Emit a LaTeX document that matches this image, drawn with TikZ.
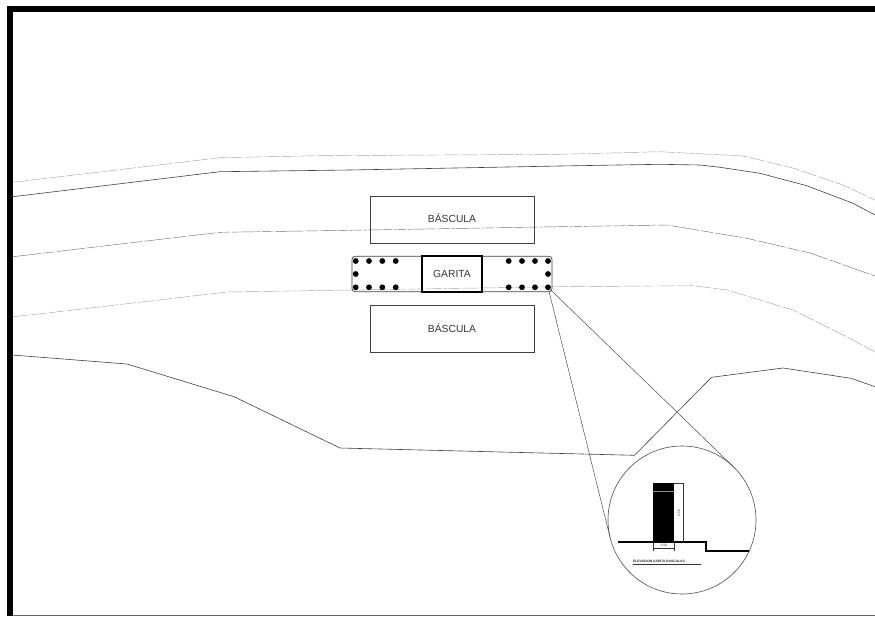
\documentclass[tikz,border=0pt]{standalone}
\usepackage{fontspec}
\setmainfont{Liberation Sans}
\usetikzlibrary{positioning}
\tikzset{
  x=1pt,
  y=-1pt,
  node distance=12pt,
  platform/.style={draw=black!75, line width=0.7pt, minimum width=164pt, minimum height=47pt, inner sep=0pt, font=\fontsize{10.3}{12}\selectfont, text=black!80},
  booth/.style={draw=black, line width=1.3pt, minimum width=60pt, minimum height=36pt, inner sep=0pt, font=\fontsize{10.3}{12}\selectfont, text=black!80},
  band/.style={draw=black!75, line width=0.7pt, rounded corners=3pt, minimum width=200pt, minimum height=35.5pt, inner sep=0pt},
  post/.style={circle, fill=black, minimum size=5.8pt, inner sep=0pt},
  lens/.style={circle, draw=black!70, line width=0.6pt, minimum size=148pt, inner sep=0pt, outer sep=0pt},
  wall/.style={fill=black, minimum width=20.4pt, minimum height=59pt, inner sep=0pt, outer sep=0pt},
  road/.style={draw=black!75, line width=0.6pt},
  kerb/.style={draw=black!55, line width=0.45pt, dash pattern=on 28pt off 2pt on 12pt off 2pt},
  faintkerb/.style={draw=black!35, line width=0.45pt, dash pattern=on 16pt off 2pt},
  link/.style={draw=black!70, line width=0.5pt},
  ground/.style={draw=black, line width=1.8pt},
  measure/.style={draw=black!80, line width=0.4pt},
  tiny/.style={inner sep=0pt, font=\fontsize{3.3}{4}\selectfont, text=black!85},
}

\begin{document}
\begin{tikzpicture}
	\useasboundingbox (0,0) rectangle (875,618);

	% frame
	\fill[black] (7,6) rectangle (875,12.5);
	\fill[black] (7,6) rectangle (13,616);
	\fill[black!60] (13,615.3) rectangle (875,616.3);

	% road lines
	\draw[faintkerb] (13,182.3) -- (220,157.7) -- (320,155.7) -- (560,154.3) -- (660,151.7) -- (743,156) -- (793,168) -- (843,185) -- (875,200);
	\draw[road] (13,196.7) -- (220,171.7) -- (350,170) -- (560,166) -- (660,164.3) -- (700,165) -- (720,167.3) -- (760,173.3) -- (806.7,185.7) -- (853,203.3) -- (875,215);
	\draw[kerb] (13,256.7) -- (220,232.3) -- (350,230.3) -- (560,226.7) -- (667,225) -- (747,238.3) -- (810,253) -- (875,276);
	\draw[faintkerb] (13,316.7) -- (50,312.7) -- (227,292) -- (310,290.7) -- (560,286.7) -- (693,285.7) -- (727,290) -- (793,310) -- (853,340) -- (875,352);
	\draw[road] (12,355) -- (127,364) -- (234,396.7) -- (340,448) -- (634.5,455.3) -- (711.5,377.3) -- (783,368) -- (851,378.3) -- (875,386.7);

	% plan
	\node[band] (strip) at (452,274) {};
	\node[booth] (garita) at (452,274) {\raisebox{1pt}{GARITA}};
	\node[platform, above=12pt of strip] (upper) {\raisebox{3.5pt}{BÁSCULA}};
	\node[platform, below=12.5pt of strip] (lower) {BÁSCULA};

	% posts
	\foreach \px/\pn in {355.7/a, 369/b, 382.3/c, 395.7/d, 508.7/e, 522/f, 535/g, 548/h} {
		\node[post] (top\pn) at (\px,261) {};
		\node[post] (low\pn) at (\px,287.3) {};
	}
	\node[post] (midleft) at (355.7,274) {};
	\node[post] (midright) at (548,274) {};

	% detail
	\node[lens] (detail) at (682,520) {};
	\draw[link] (lowh) -- (detail.46);
	\draw[link] (lowh) -- (detail.194);

	\node[wall] (section) at (663.5,512.2) {};
	\draw[black!45, line width=0.5pt] (section.west |- 0,491.7) -- (section.east |- 0,491.7);

	% heights
	\coordinate (hightop) at (683.3,482.7);
	\coordinate (highlow) at (683.3,541.7);
	\coordinate (wideleft) at (653.3,548);
	\coordinate (wideright) at (673.7,548);
	\draw[measure] (section.north east) -- (hightop) -- (highlow);
	\draw[measure] (wideleft) -- (wideright);
	\draw[measure] (section.south west) -- ++(0,9.5);
	\draw[measure] (section.south east) -- ++(0,9.5);
	\node[tiny, rotate=90] (hightext) at (678.7,513) {4.50};
	\node[tiny] (widetext) at (663.5,545.3) {1.50};

	% ground
	\coordinate (groundleft) at (618,541.7);
	\coordinate (stepup) at (706,541.7);
	\coordinate (stepdown) at (706,551.3);
	\coordinate (groundright) at (749,551.3);
	\draw[ground] (groundleft) -- (stepup) -- (stepdown) -- (groundright);

	% title
	\node[tiny, anchor=west, font=\fontsize{3.3}{4}\selectfont\bfseries] (title) at (633,561.6) {ELEVACION GARITA BASCULAS};
	\coordinate (ruleleft) at (633,564.5);
	\coordinate (ruleright) at (700.7,564.5);
	\draw[measure] (ruleleft) -- (ruleright);
\end{tikzpicture}
\end{document}
